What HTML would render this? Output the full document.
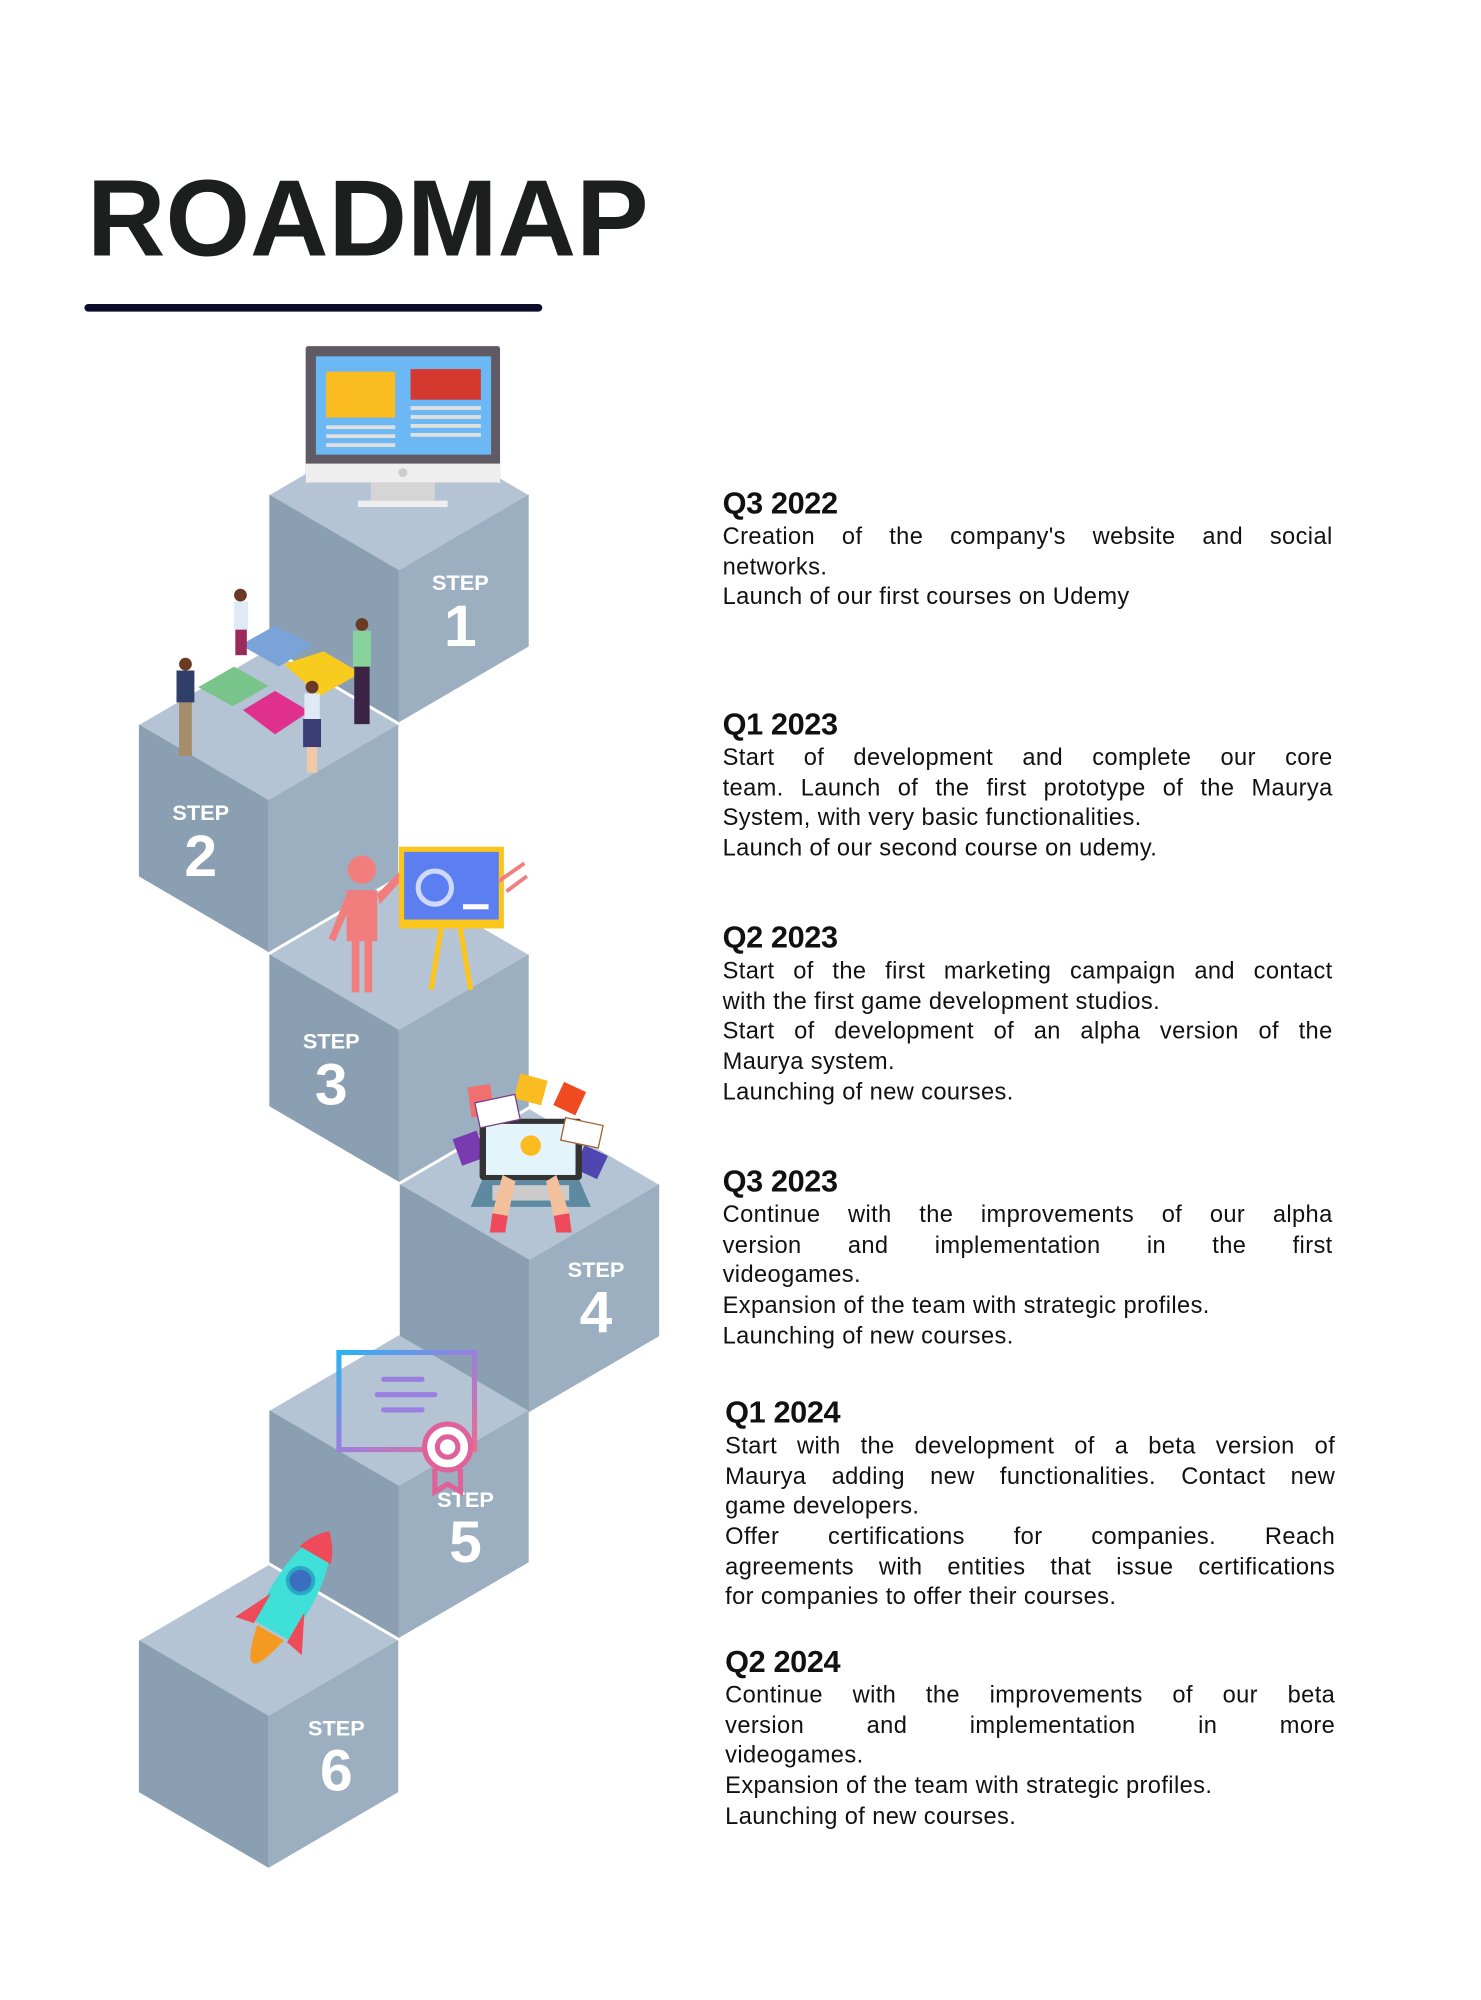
<!DOCTYPE html>
<html><head><meta charset="utf-8"><style>
html,body{margin:0;padding:0;background:#fff;}
body{width:1481px;height:2000px;overflow:hidden;position:relative;}
#c{position:absolute;left:0;top:0;width:1158px;height:1566px;transform-origin:0 0;transform:scale(1.27893,1.27714);font-family:"Liberation Sans",sans-serif;color:#111;}
.t{position:absolute;left:68px;top:122px;font-size:85px;font-weight:bold;color:#1d1f1f;letter-spacing:0px;line-height:100px;}
.bar{position:absolute;left:66px;top:238px;width:358px;height:6px;border-radius:3px;background:#0c0c2a;}
.b{position:absolute;width:477px;}
.h{font-size:24px;font-weight:bold;height:26px;line-height:26px;letter-spacing:-0.3px;}
.l{font-size:18.5px;line-height:23.7px;height:23.7px;letter-spacing:0.3px;white-space:nowrap;}
.j{text-align:justify;text-align-last:justify;white-space:normal;}
svg{position:absolute;left:0;top:0;}
</style></head><body><div id="c">
<svg width="1158" height="1566" viewBox="0 0 1158 1566">
<defs>
<g id="cube">
<polygon points="0,0 101,-59 202,0 101,59" fill="#b4c4d4" stroke="#b4c4d4" stroke-width="0.8"/>
<polygon points="0,0 101,59 101,177 0,118" fill="#8b9fb2" stroke="#8b9fb2" stroke-width="0.8"/>
<polygon points="101,59 202,0 202,118 101,177" fill="#9cafc0" stroke="#9cafc0" stroke-width="0.8"/>
</g>
<linearGradient id="cg" x1="0" y1="0" x2="1" y2="1"><stop offset="0" stop-color="#2bb3f0"/><stop offset="0.5" stop-color="#9a7fe0"/><stop offset="1" stop-color="#f06a8a"/></linearGradient>
</defs>
<use href="#cube" x="211" y="388"/>
<use href="#cube" x="109" y="568"/>
<use href="#cube" x="211" y="748"/>
<use href="#cube" x="313" y="928"/>
<use href="#cube" x="211" y="1105"/>
<use href="#cube" x="109" y="1285"/>
<g fill="#fff" font-family="Liberation Sans, sans-serif" font-weight="bold" text-anchor="middle">
<text x="360" y="462" font-size="17">STEP</text><text x="360" y="506" font-size="46">1</text>
<text x="157" y="642" font-size="17">STEP</text><text x="157" y="686" font-size="46">2</text>
<text x="259" y="821" font-size="17">STEP</text><text x="259" y="865" font-size="46">3</text>
<text x="466" y="1000" font-size="17">STEP</text><text x="466" y="1043" font-size="46">4</text>
<text x="364" y="1180" font-size="17">STEP</text><text x="364" y="1223" font-size="46">5</text>
<text x="263" y="1359" font-size="17">STEP</text><text x="263" y="1402" font-size="46">6</text>
</g>
<!-- monitor -->
<rect x="239" y="271" width="152" height="107" rx="2" fill="#5f5a63"/>
<rect x="247" y="279" width="137" height="77" fill="#6bb8f5"/>
<rect x="239" y="363" width="152" height="15" fill="#eeeeee"/>
<circle cx="315" cy="370" r="3.5" fill="#ccc"/>
<rect x="290" y="378" width="50" height="14" fill="#d5d5d5"/>
<rect x="280" y="392" width="70" height="5" fill="#eee"/>
<rect x="255" y="291" width="54" height="36" fill="#fbbc22"/>
<rect x="321" y="289" width="55" height="24" fill="#d5382e"/>
<g fill="#e0e0e0"><rect x="255" y="333" width="54" height="3"/><rect x="255" y="340" width="54" height="3"/><rect x="255" y="347" width="54" height="3"/><rect x="321" y="318" width="55" height="3"/><rect x="321" y="325" width="55" height="3"/><rect x="321" y="332" width="55" height="3"/><rect x="321" y="339" width="55" height="3"/></g>
<!-- puzzles -->
<polygon points="188,505 215,490 245,505 218,522" fill="#7aa3d8"/>
<polygon points="222,520 253,510 282,527 250,545" fill="#f7cc1e"/>
<polygon points="155,538 183,522 210,537 182,553" fill="#78c48b"/>
<polygon points="190,556 215,541 242,557 215,575" fill="#e0308e"/>
<!-- people -->
<g>
<circle cx="188" cy="466" r="5" fill="#6b3a22"/><rect x="183" y="471" width="11" height="22" fill="#dfeaf5"/><rect x="184" y="493" width="9" height="20" fill="#9a2a5a"/>
<circle cx="283" cy="489" r="5" fill="#6b3a22"/><rect x="276" y="494" width="14" height="28" fill="#88d49c"/><rect x="277" y="522" width="12" height="45" fill="#3a2344"/>
<circle cx="145" cy="520" r="5" fill="#6b3a22"/><rect x="138" y="525" width="14" height="25" fill="#2f3f6a"/><rect x="140" y="550" width="10" height="42" fill="#a58c6a"/>
<circle cx="244" cy="538" r="5" fill="#6b3a22"/><rect x="238" y="543" width="12" height="20" fill="#dfeaf5"/><rect x="237" y="563" width="14" height="22" fill="#3b3c76"/><rect x="240" y="585" width="8" height="20" fill="#f2c9a8"/>
</g>
<!-- presenter -->
<circle cx="283" cy="681" r="11" fill="#f27d7d"/>
<path d="M271 697 h24 v40 h-4 v40 h-6 v-40 h-4 v40 h-6 v-40 h-4z" fill="#f27d7d"/>
<path d="M271 700 l-14 35 l5 2 l12 -28z M295 700 l18 -18 l4 4 l-20 22z" fill="#f27d7d"/>
<rect x="312" y="663" width="82" height="64" fill="#fbc51c"/>
<rect x="316" y="667" width="74" height="53" fill="#5b7ff0"/>
<circle cx="340" cy="695" r="13" fill="none" stroke="#cfd8ff" stroke-width="4"/>
<rect x="362" y="708" width="20" height="4" fill="#fff"/>
<path d="M345 727 l-8 48 M360 727 l8 48" stroke="#fbc51c" stroke-width="4"/>
<path d="M390 690 l20 -14 M396 698 l16 -12" stroke="#f27d7d" stroke-width="3"/>
<!-- laptop -->
<rect x="367" y="850" width="18" height="24" fill="#f07070" transform="rotate(-8 376 862)"/>
<rect x="404" y="843" width="22" height="20" fill="#fbbc22" transform="rotate(15 415 853)"/>
<rect x="436" y="850" width="19" height="20" fill="#f04a20" transform="rotate(25 445 860)"/>
<rect x="357" y="888" width="20" height="22" fill="#7a3ab0" transform="rotate(-20 367 899)"/>
<rect x="452" y="900" width="20" height="20" fill="#5046b0" transform="rotate(25 462 910)"/>
<rect x="375" y="876" width="80" height="48" rx="3" fill="#333"/>
<rect x="380" y="880" width="70" height="40" fill="#e4f4fb"/>
<circle cx="415" cy="897" r="8" fill="#fbbc22"/>
<rect x="373" y="860" width="32" height="20" fill="#fff" stroke="#7a3a8a" transform="rotate(-12 389 870)"/>
<rect x="440" y="878" width="30" height="18" fill="#fff" stroke="#a0602a" transform="rotate(12 455 887)"/>
<polygon points="377,924 453,924 462,945 368,945" fill="#5d8aa0"/>
<rect x="385" y="928" width="60" height="12" fill="#ccc"/>
<path d="M393 920 l-8 30 l12 3 l6 -28z M435 920 l10 30 l-12 3 l-6 -28z" fill="#f2c09b"/>
<path d="M385 950 l-2 15 l12 0 l2 -13z M445 950 l2 15 l-12 0 l-2 -13z" fill="#ee4a5a"/>
<!-- certificate -->
<rect x="265" y="1059" width="106" height="76" fill="none" stroke="url(#cg)" stroke-width="4"/>
<g stroke="#9a7fe0" stroke-width="4" stroke-linecap="round"><line x1="300" y1="1080" x2="330" y2="1080"/><line x1="295" y1="1092" x2="340" y2="1092"/><line x1="300" y1="1104" x2="330" y2="1104"/></g>
<circle cx="350" cy="1133" r="18" fill="#fff" stroke="#e0609a" stroke-width="4"/>
<circle cx="350" cy="1133" r="8" fill="none" stroke="#e0609a" stroke-width="4"/>
<path d="M340 1150 v18 l10 -6 l10 6 v-18" fill="none" stroke="#e0609a" stroke-width="4"/>
<!-- rocket -->
<g transform="rotate(30 225 1255)">
<path d="M225 1190 c18 20 20 60 15 90 h-30 c-5 -30 -3 -70 15 -90z" fill="#3fe0d8"/>
<path d="M225 1190 c8 8 12 15 14 22 h-28 c2 -7 6 -14 14 -22z" fill="#ef4a5a"/>
<circle cx="225" cy="1235" r="10" fill="#3a6fc0" stroke="#2aa8c8" stroke-width="3"/>
<path d="M210 1255 l-15 30 l15 -3z M240 1255 l15 30 l-15 -3z" fill="#ef4a5a"/>
<path d="M213 1282 q12 55 24 0z" fill="#f59a20"/>
</g>
</svg>
<div class="t">ROADMAP</div>
<div class="bar"></div>

<div class="b" style="left:565px;top:382px">
<div class="h">Q3 2022</div>
<div class="l j">Creation of the company's website and social</div>
<div class="l">networks.</div>
<div class="l">Launch of our first courses on Udemy</div>
</div>
<div class="b" style="left:565px;top:555px">
<div class="h">Q1 2023</div>
<div class="l j">Start of development and complete our core</div>
<div class="l j">team. Launch of the first prototype of the Maurya</div>
<div class="l">System, with very basic functionalities.</div>
<div class="l">Launch of our second course on udemy.</div>
</div>
<div class="b" style="left:565px;top:722px">
<div class="h">Q2 2023</div>
<div class="l j">Start of the first marketing campaign and contact</div>
<div class="l">with the first game development studios.</div>
<div class="l j">Start of development of an alpha version of the</div>
<div class="l">Maurya system.</div>
<div class="l">Launching of new courses.</div>
</div>
<div class="b" style="left:565px;top:913px">
<div class="h">Q3 2023</div>
<div class="l j">Continue with the improvements of our alpha</div>
<div class="l j">version and implementation in the first</div>
<div class="l">videogames.</div>
<div class="l">Expansion of the team with strategic profiles.</div>
<div class="l">Launching of new courses.</div>
</div>
<div class="b" style="left:567px;top:1094px">
<div class="h">Q1 2024</div>
<div class="l j">Start with the development of a beta version of</div>
<div class="l j">Maurya adding new functionalities. Contact new</div>
<div class="l">game developers.</div>
<div class="l j">Offer certifications for companies. Reach</div>
<div class="l j">agreements with entities that issue certifications</div>
<div class="l">for companies to offer their courses.</div>
</div>
<div class="b" style="left:567px;top:1289px">
<div class="h">Q2 2024</div>
<div class="l j">Continue with the improvements of our beta</div>
<div class="l j">version and implementation in more</div>
<div class="l">videogames.</div>
<div class="l">Expansion of the team with strategic profiles.</div>
<div class="l">Launching of new courses.</div>
</div>
</div></body></html>
